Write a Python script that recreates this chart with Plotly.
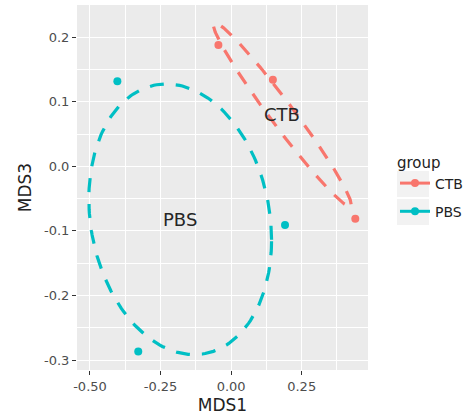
import numpy as np
import plotly.graph_objects as go

# ---- data ----
groups = ["CTB", "PBS"]
ctb_x = [-0.045, 0.148, 0.440]
ctb_y = [0.188, 0.134, -0.081]
pbs_x = [-0.403, 0.191, -0.329]
pbs_y = [0.132, -0.091, -0.287]
colors = {"CTB": "#F8766D", "PBS": "#00BFC4"}
ellipse_radius = 1.0  # in units of sample-covariance Mahalanobis distance

x_tickvals = [-0.50, -0.25, 0.00, 0.25]
x_ticktext = ["-0.50", "-0.25", "0.00", "0.25"]
y_tickvals = [-0.3, -0.2, -0.1, 0.0, 0.1, 0.2]
y_ticktext = ["-0.3", "-0.2", "-0.1", "0.0", "0.1", "0.2"]

data = {"CTB": (ctb_x, ctb_y), "PBS": (pbs_x, pbs_y)}

FONT = "DejaVu Sans"
W, H = 466, 416
ML, MR, MT, MB = 77, 98, 5, 46
PW, PH = W - ML - MR, H - MT - MB

fig = go.Figure()


def ellipse(xs, ys, r, n=200):
    pts = np.column_stack([xs, ys])
    c = pts.mean(axis=0)
    S = np.cov(pts.T)
    L = np.linalg.cholesky(S)
    t = np.linspace(0, 2 * np.pi, n)
    circ = np.column_stack([np.cos(t), np.sin(t)])
    e = c + r * circ @ L.T
    return e[:, 0], e[:, 1], c


annots = []
for g in groups:
    xs, ys = data[g]
    ex, ey, c = ellipse(xs, ys, ellipse_radius)
    fig.add_trace(go.Scatter(
        x=ex, y=ey, mode="lines", showlegend=False, hoverinfo="skip",
        line=dict(color=colors[g], width=3.2, dash="14px,12px"),
    ))
    fig.add_trace(go.Scatter(
        x=xs, y=ys, mode="markers", name=g, showlegend=False,
        marker=dict(color=colors[g], size=8),
    ))
    # legend entry (line + point key, like ggplot)
    fig.add_trace(go.Scatter(
        x=[None], y=[None], mode="lines+markers", name=g,
        line=dict(color=colors[g], width=3),
        marker=dict(color=colors[g], size=8),
        legendgroup=g,
    ))
    annots.append(dict(x=c[0], y=c[1], text=g, showarrow=False,
                       font=dict(family=FONT, size=18, color="#262626"),
                       xref="x", yref="y"))


def px2paper_x(px):
    return (px - ML) / PW


def px2paper_y(py):
    return (H - MB - py) / PH


# grey legend key backgrounds
shapes = []
for (y0, y1) in [(171, 197), (199, 225)]:
    shapes.append(dict(type="rect", xref="paper", yref="paper",
                       x0=px2paper_x(397), x1=px2paper_x(429),
                       y0=px2paper_y(y1), y1=px2paper_y(y0),
                       fillcolor="#F2F2F2", line=dict(width=0), layer="below"))

fig.update_layout(
    width=W, height=H,
    margin=dict(l=ML, r=MR, t=MT, b=MB, autoexpand=False),
    paper_bgcolor="white",
    plot_bgcolor="#EBEBEB",
    font=dict(family=FONT, color="#4D4D4D"),
    annotations=annots,
    shapes=shapes,
    legend=dict(
        x=px2paper_x(395), y=px2paper_y(148), xanchor="left", yanchor="top",
        title=dict(text="group", font=dict(family=FONT, size=15, color="#222")),
        font=dict(family=FONT, size=14, color="#222"),
        bgcolor="rgba(0,0,0,0)",
        itemwidth=30,
        tracegroupgap=7,
    ),
    xaxis=dict(
        range=[-0.546, 0.485], tickvals=x_tickvals, ticktext=x_ticktext,
        showgrid=True, gridcolor="white", gridwidth=1.3,
        zeroline=False, ticks="outside", ticklen=4, tickcolor="#333333",
        tickfont=dict(family=FONT, size=13, color="#4D4D4D"),
        minor=dict(dtick=0.125, tick0=-0.625, showgrid=True, gridcolor="white", gridwidth=0.6),
        title=dict(text="MDS1", font=dict(family=FONT, size=17, color="#222"), standoff=6),
        automargin=False,
    ),
    yaxis=dict(
        range=[-0.3155, 0.25], tickvals=y_tickvals, ticktext=y_ticktext,
        showgrid=True, gridcolor="white", gridwidth=1.3,
        zeroline=False, ticks="outside", ticklen=4, tickcolor="#333333",
        tickfont=dict(family=FONT, size=13, color="#4D4D4D"),
        minor=dict(dtick=0.05, tick0=-0.35, showgrid=True, gridcolor="white", gridwidth=0.6),
        title=dict(text="MDS3", font=dict(family=FONT, size=17, color="#222"), standoff=8),
        automargin=False,
    ),
)

fig.write_html("out.html", config={"displayModeBar": False},
               post_script="document.body.style.margin='0';")
